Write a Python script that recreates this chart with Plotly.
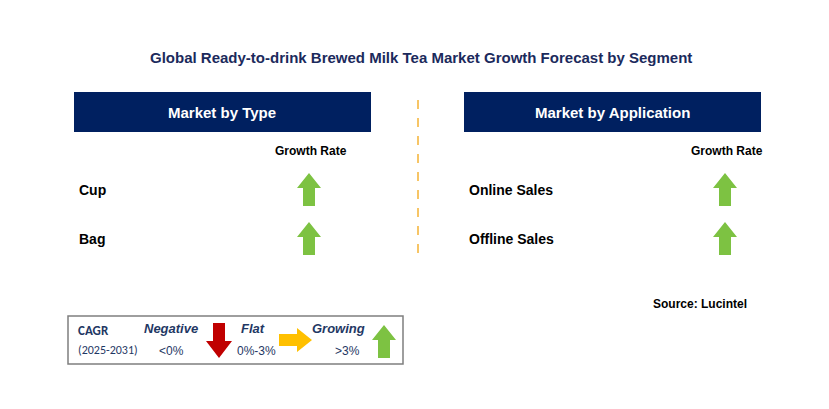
import plotly.graph_objects as go

title = "Global Ready-to-drink Brewed Milk Tea Market Growth Forecast by Segment"
panels = ["Market by Type", "Market by Application"]
type_cats = ["Cup", "Bag"]
type_growth = ["up", "up"]
app_cats = ["Online Sales", "Offline Sales"]
app_growth = ["up", "up"]

NAVY = "#002060"
GREEN = "#7DC242"
fig = go.Figure()
shapes, ann = [], []

def arrow(cx, top, bot, color, direction="up", hw=12, sw=6, hh=15):
    if direction == "up":
        p = f"M{cx},{top} L{cx+hw},{top+hh} L{cx+sw},{top+hh} L{cx+sw},{bot} L{cx-sw},{bot} L{cx-sw},{top+hh} L{cx-hw},{top+hh} Z"
    elif direction == "down":
        p = f"M{cx},{bot} L{cx+hw},{bot-hh} L{cx+sw},{bot-hh} L{cx+sw},{top} L{cx-sw},{top} L{cx-sw},{bot-hh} L{cx-hw},{bot-hh} Z"
    else:  # right: top=left x, bot=right x, cx=center y
        p = f"M{bot},{cx} L{bot-hh},{cx-hw} L{bot-hh},{cx-sw} L{top},{cx-sw} L{top},{cx+sw} L{bot-hh},{cx+sw} L{bot-hh},{cx+hw} Z"
    shapes.append(dict(type="path", path=p, fillcolor=color, line=dict(width=0), xref="x", yref="y"))

def text(x, y, s, size=13, color="black", bold=True, xanchor="left", italic=False, family="Arial"):
    if bold: s = f"<b>{s}</b>"
    if italic: s = f"<i>{s}</i>"
    ann.append(dict(x=x, y=y, text=s, showarrow=False, xanchor=xanchor, yanchor="middle",
                    font=dict(size=size, color=color, family=family), xref="x", yref="y"))

text(421, 57, title, 15, "#1B2A5C", xanchor="center")

for i, (panel, cats, growth) in enumerate([(panels[0], type_cats, type_growth), (panels[1], app_cats, app_growth)]):
    x0 = 74 if i == 0 else 464
    shapes.append(dict(type="rect", x0=x0, x1=x0 + 297, y0=92, y1=132, fillcolor=NAVY, line=dict(width=0), xref="x", yref="y"))
    text(x0 + 148, 112, panel, 15, "white", xanchor="center")
    ax = 309 if i == 0 else 725
    text(ax + 2, 151, "Growth Rate", 12, xanchor="center")
    for j, (c, g) in enumerate(zip(cats, growth)):
        y = 190 + 49 * j
        text(x0 + 3, y, c, 14)
        arrow(ax, y - 17, y + 16, GREEN, g)

shapes.append(dict(type="line", x0=418, x1=418, y0=100, y1=262, line=dict(color="#F5B335", width=1.5, dash="dash"), xref="x", yref="y"))
text(749, 304, "Source: Lucintel", 12, xanchor="right")

# legend
shapes.append(dict(type="rect", x0=68, x1=403, y0=316, y1=364, line=dict(color="#7F7F7F", width=1.5), xref="x", yref="y"))
text(76, 330, "CAGR", 13, "#1F3864", family="Calibri, Carlito, Arial")
text(76, 350, "(2025-2031)", 12, "#1F3864", bold=False, family="Calibri, Carlito, Arial")
text(171, 328, "Negative", 13, "#1F3864", xanchor="center", italic=True)
text(171, 351, "&lt;0%", 12, "#1F3864", bold=False, xanchor="center")
arrow(219, 323, 358, "#C00000", "down", hw=13, sw=6, hh=17)
text(253, 328, "Flat", 13, "#1F3864", xanchor="center", italic=True)
text(256, 351, "0%-3%", 12, "#1F3864", bold=False, xanchor="center")
arrow(340, 279, 312, "#FFC000", "right", hw=12, sw=6, hh=15)
text(338, 328, "Growing", 13, "#1F3864", xanchor="center", italic=True)
text(347, 351, "&gt;3%", 12, "#1F3864", bold=False, xanchor="center")
arrow(384, 325, 358, GREEN, "up", hw=12, sw=6, hh=15)

fig.update_layout(width=829, height=409, margin=dict(l=0, r=0, t=0, b=0),
                  paper_bgcolor="white", plot_bgcolor="white", shapes=shapes, annotations=ann,
                  xaxis=dict(range=[8, 837], visible=False, fixedrange=True),
                  yaxis=dict(range=[417, 8], visible=False, fixedrange=True), showlegend=False)
fig.write_html("out.html")
